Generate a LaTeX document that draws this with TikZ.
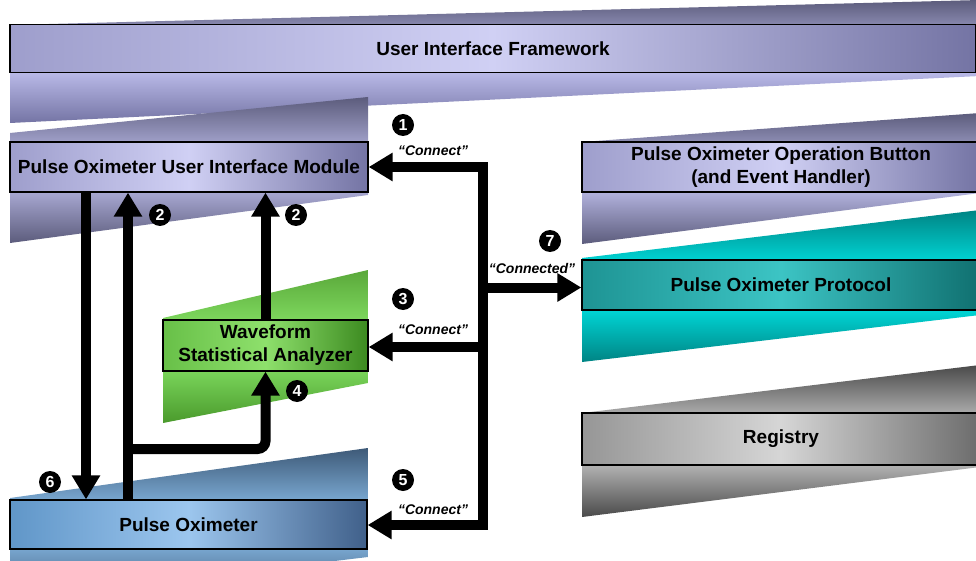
\documentclass[tikz,border=0pt]{standalone}
\usepackage{fontspec}
\setmainfont{Liberation Sans}
\usetikzlibrary{arrows.meta}
\definecolor{lavL}{HTML}{9E9ECC}
\definecolor{lavM}{HTML}{D0D0F4}
\definecolor{lavR}{HTML}{7474A4}
\definecolor{lavD}{HTML}{5C5C7C}
\definecolor{lavS}{HTML}{C8C8F6}
\definecolor{teaL}{HTML}{1E9494}
\definecolor{teaM}{HTML}{3CC4C4}
\definecolor{teaR}{HTML}{107070}
\definecolor{teaD}{HTML}{008484}
\definecolor{teaS}{HTML}{00FAFA}
\definecolor{graL}{HTML}{969696}
\definecolor{graM}{HTML}{D6D6D6}
\definecolor{graR}{HTML}{6C6C6C}
\definecolor{graD}{HTML}{4A4A4A}
\definecolor{graS}{HTML}{E2E2E2}
\definecolor{greL}{HTML}{68C048}
\definecolor{greM}{HTML}{8EE06C}
\definecolor{greR}{HTML}{3C8A20}
\definecolor{greT}{HTML}{5AA83A}
\definecolor{greD}{HTML}{4A9A2C}
\definecolor{greS}{HTML}{90F070}
\definecolor{bluL}{HTML}{6096C8}
\definecolor{bluM}{HTML}{9CC6EE}
\definecolor{bluR}{HTML}{40608A}
\definecolor{bluD}{HTML}{3E5A78}
\definecolor{bluS}{HTML}{94CAF8}
\begin{document}
\begin{tikzpicture}[x=1pt,y=-1pt,
  box/.style={draw=black, line width=1.3pt, minimum height=50pt, inner sep=0pt,
    align=center, font=\bfseries\fontsize{19}{23}\selectfont},
  lavbox/.style={left color=lavL, right color=lavR, middle color=lavM},
  teabox/.style={left color=teaL, right color=teaR, middle color=teaM},
  grabox/.style={left color=graL, right color=graR, middle color=graM},
  grebox/.style={left color=greL, right color=greR, middle color=greM},
  blubox/.style={left color=bluL, right color=bluR, middle color=bluM},
  bar/.style={line width=10pt, draw=black},
  tip/.style={-{Triangle[width=27pt,length=24pt]}},
  badge/.style={circle, fill=black, text=white, minimum size=22pt, inner sep=0pt,
    font=\bfseries\fontsize{16}{16}\selectfont},
  lab/.style={font=\bfseries\itshape\fontsize{14}{14}\selectfont, inner sep=0pt}]
\useasboundingbox (0,0) rectangle (976,561);
\clip (0,0) rectangle (976,561);
% perspective shades
\shade[top color=lavD, bottom color=lavR, middle color=lavS] (10,25) -- (980,0) -- (980,76) -- (10,123) -- cycle;
\shade[top color=lavD, bottom color=lavD, middle color=lavS] (10,133) -- (368,97) -- (368,195) -- (10,243) -- cycle;
\shade[top color=lavD, bottom color=lavD, middle color=lavS] (582,142) -- (980,113) -- (980,193) -- (582,244) -- cycle;
\shade[top color=teaD, bottom color=teaD, middle color=teaS] (582,258) -- (980,210) -- (980,315) -- (582,362) -- cycle;
\shade[top color=graD, bottom color=graD, middle color=graS] (582,413) -- (980,365) -- (980,467) -- (582,517) -- cycle;
\shade[top color=greT, bottom color=greD, middle color=greS] (163,318) -- (368,270) -- (368,383) -- (163,423) -- cycle;
\shade[top color=bluD, bottom color=bluD, middle color=bluS] (10,498) -- (368,448) -- (368,557) -- (10,600) -- cycle;
% boxes
\node[box, lavbox, minimum width=966pt, minimum height=48pt] (uif) at (493,48.5) {User Interface Framework};
\node[box, lavbox, minimum width=358pt] (mod) at (189,167) {Pulse Oximeter User Interface Module};
\node[box, lavbox, minimum width=398pt] (op) at (781,167) {Pulse Oximeter Operation Button\\(and Event Handler)};
\node[box, teabox, minimum width=398pt] (proto) at (781,285) {Pulse Oximeter Protocol};
\node[box, grabox, minimum width=398pt, minimum height=52pt] (reg) at (781,439) {Registry};
\node[box, grebox, minimum width=205pt, minimum height=51pt] (wsa) at (265.5,345.5) {Waveform\\Statistical Analyzer};
\node[box, blubox, minimum width=357pt, minimum height=49pt] (po) at (188.5,524.5) {Pulse Oximeter};
% connector coordinates
\coordinate (j1) at (483,167);
\coordinate (j7) at (483,287.5);
\coordinate (j3) at (483,347);
\coordinate (j5) at (483,525);
\coordinate (x6) at (86,0);
\coordinate (x2) at (128,0);
\coordinate (y4) at (0,449);
% connectors
\draw[bar, {Triangle[width=27pt,length=24pt]}-{Triangle[width=27pt,length=24pt]}]
  (mod.east |- j1) -- (j1) -- (j5) -- (po.east |- j5);
\draw[bar, tip] (j3) -- (wsa.east |- j3);
\draw[bar, tip] (j7) -- (proto.west |- j7);
\draw[bar, tip] (x6 |- mod.south) -- (x6 |- po.north);
\draw[bar, tip] (x2 |- po.north) -- (x2 |- mod.south);
\draw[bar, tip, rounded corners=8pt] (x2 |- y4) -- (wsa.south |- y4) -- (wsa.south);
\draw[bar, tip] (wsa.north) -- (mod.south -| wsa.north);
% badges
\node[badge] (b1) at (403,125) {1};
\node[badge] (b2a) at (160,215) {2};
\node[badge] (b2b) at (296,215) {2};
\node[badge] (b3) at (403,299) {3};
\node[badge] (b4) at (297,391) {4};
\node[badge] (b5) at (403,480) {5};
\node[badge] (b6) at (50,482) {6};
\node[badge] (b7) at (550,241) {7};
% labels
\node[lab] (l1) at (433,151) {“Connect”};
\node[lab] (l3) at (433,330) {“Connect”};
\node[lab] (l5) at (433,510) {“Connect”};
\node[lab] (l7) at (532,268) {“Connected”};
\end{tikzpicture}
\end{document}
